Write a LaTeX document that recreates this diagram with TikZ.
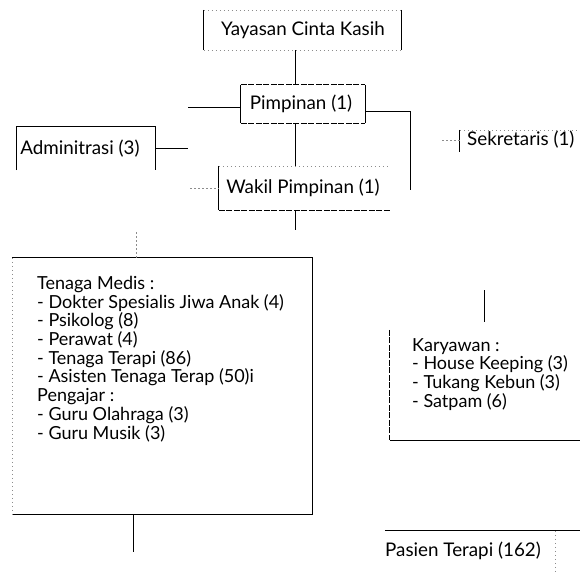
\documentclass[tikz,border=0pt]{standalone}
\usepackage{fontspec}
\setmainfont{Lato}
\begin{document}
\begin{tikzpicture}[x=1pt,y=-1pt,
  lbl/.style={inner sep=0pt,font=\fontsize{18.8}{20}\selectfont},
  lst/.style={inner sep=0pt,anchor=north west,align=left,font=\fontsize{18}{18.7}\selectfont},
  boxarea/.style={draw=none,inner sep=0pt,minimum width=#1},
  solidln/.style={line width=0.8pt,black},
  darkdash/.style={line width=0.8pt,black,dash pattern=on 6pt off 1.5pt},
  graydot/.style={line width=0.6pt,black!45,dash pattern=on 1.5pt off 2.5pt},
  conn/.style={line width=0.8pt,black}]
\useasboundingbox (0,0) rectangle (580,571);
% ---------- boxes (areas) ----------
\node[boxarea=197pt,minimum height=40pt] (yay) at (302.5,30) {};
\node[boxarea=124pt,minimum height=38pt] (pim) at (303,104) {};
\node[boxarea=138pt,minimum height=43pt] (adm) at (86,148.5) {};
\node[boxarea=171pt,minimum height=44pt] (wak) at (304.5,188) {};
\node[boxarea=300pt,minimum height=256pt] (med) at (162,386) {};
\node[boxarea=200pt,minimum height=110pt] (kar) at (490,385) {};
\node[boxarea=200pt,minimum height=60pt] (pas) at (485,561) {};
\node[boxarea=130pt,minimum height=30pt] (sek) at (525,145) {};
% ---------- texts ----------
\node[lbl] (yayt) at (303,30) {Yayasan Cinta Kasih};
\node[lbl] (pimt) at (301,104) {Pimpinan (1)};
\node[lbl] (admt) at (80,149) {Adminitrasi (3)};
\node[lbl] (wakt) at (303,188) {Wakil Pimpinan (1)};
\node[lbl,anchor=west] (sekt) at (467,140) {Sekretaris (1)};
\node[lst] (medt) at (37,276) {Tenaga Medis :\\
- Dokter Spesialis Jiwa Anak (4)\\
- Psikolog (8)\\
- Perawat (4)\\
- Tenaga Terapi (86)\\
- Asisten Tenaga Terap (50)i\\
Pengajar :\\
- Guru Olahraga (3)\\
- Guru Musik (3)};
\node[lst] (kart) at (412,338) {Karyawan :\\
- House Keeping (3)\\
- Tukang Kebun (3)\\
- Satpam (6)};
\node[lbl,anchor=west] (past) at (385,551) {Pasien Terapi (162)};
% ---------- box edges ----------
\draw[solidln] (yay.north west) -- (yay.south west);
\draw[solidln] (yay.north east) -- (yay.south east);
\draw[graydot] (yay.north west) -- (yay.north east);
\draw[graydot] (yay.south west) -- (yay.south east);
\draw[solidln] (pim.north west) -- (pim.south west);
\draw[solidln] (pim.north east) -- (pim.south east);
\draw[darkdash] (pim.north west) -- (pim.north east);
\draw[darkdash] (pim.south west) -- (pim.south east);
\draw[solidln] (adm.south west) -- (adm.north west) -- (adm.north east) -- (adm.south east);
\draw[solidln] (wak.north west) -- (wak.south west);
\draw[graydot] (wak.north west) -- (wak.north east);
\draw[darkdash] (wak.south west) -- (wak.south east);
\draw[solidln] (sek.north west) -- ([yshift=-22pt]sek.north west);
\draw[graydot] (sek.north west) -- (sek.north east);
\draw[solidln] (med.north west) -- (med.north east) -- (med.south east) -- (med.south west);
\draw[graydot] (med.north west) -- (med.south west);
\draw[darkdash] (kar.north west) -- (kar.south west);
\draw[solidln] (kar.south west) -- (kar.south east);
\draw[solidln] (pas.north west) -- (pas.north east);
\draw[graydot] ([xshift=-30pt]pas.north east) -- ([xshift=-30pt]pas.south east);
% ---------- connectors ----------
\coordinate (spine) at (295,0);
\coordinate (admj) at (188,107);
\coordinate (sekj) at (410,190);
\coordinate (sekl) at (442,140);
\coordinate (wakl) at (190,188);
\coordinate (wakd) at (295,230);
\coordinate (medu) at (136,232);
\coordinate (kartop) at (484,290);
\coordinate (karbot) at (484,322);
\coordinate (medd) at (133,552);
\draw[conn] (yay.south -| spine) -- (pim.north -| spine);
\draw[conn] (pim.south -| spine) -- (wak.north -| spine);
\draw[conn] (wak.south -| spine) -- (wakd);
\draw[conn] (pim.west |- admj) -- (admj);
\draw[conn] (adm.east) -- (adm.east -| admj);
\draw[conn] ([yshift=-7pt]pim.east) -| (sekj);
\draw[graydot] (sekl) -- (sek.west |- sekl);
\draw[graydot] (wakl) -- (wak.west |- wakl);
\draw[graydot] (medu) -- (med.north -| medu);
\draw[conn] (kartop) -- (karbot);
\draw[conn] (med.south -| medd) -- (medd);
\end{tikzpicture}
\end{document}
